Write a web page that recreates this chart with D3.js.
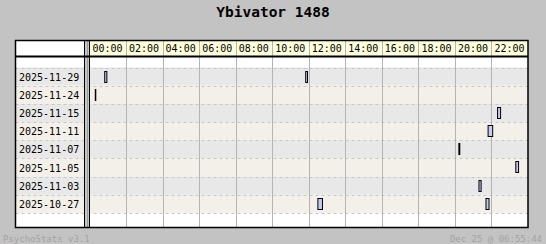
<!DOCTYPE html>
<html>
<head>
<meta charset="utf-8">
<script src="https://cdn.jsdelivr.net/npm/d3@7"></script>
<style>
  body { margin: 0; background: #c3c3c3; }
  svg { display: block; }
  .mono { font-family: "DejaVu Sans Mono", monospace; }
</style>
</head>
<body>
<svg class="chart" width="546" height="244"></svg>
<script>
// chart data
var title = "Ybivator 1488";
var days = ["2025-11-29", "2025-11-24", "2025-11-15", "2025-11-11", "2025-11-07", "2025-11-05", "2025-11-03", "2025-10-27"];
var hourTicks = [0, 2, 4, 6, 8, 10, 12, 14, 16, 18, 20, 22];

// one entry per session
var sessionDay = ["2025-11-29", "2025-11-29", "2025-11-24", "2025-11-15", "2025-11-11", "2025-11-07", "2025-11-05", "2025-11-03", "2025-10-27", "2025-10-27"];
var sessionStart = ["00:50", "11:50", "00:19", "22:20", "21:49", "20:13", "23:20", "21:19", "12:30", "21:42"];
var sessionMinutes = [7, 6, 1, 10, 15, 3, 9, 7, 15, 10];

var footerLeft = "PsychoStats v3.1";
var footerRight = "Dec 25 @ 06:55:44";

//set up chart
var box = {left: 15.5, right: 528, top: 40.5, bottom: 227.5};
var labelRight = 84.5;
var gridLeft = 89.5;
var headBottom = 56;
var rowsTop = 67.5, rowsBottom = 213;

var svg = d3.select(".chart");

function toHours(s) {
    var p = s.split(":");
    return +p[0] + (+p[1]) / 60;
}

var x = d3.scaleLinear().domain([0, 24]).range([gridLeft, box.right]);
var y = d3.scaleBand().domain(days).range([rowsTop, rowsBottom]);

//title
svg.append("text")
    .attr("class", "mono")
    .attr("x", 273)
    .attr("y", 17)
    .attr("text-anchor", "middle")
    .style("font-size", "14.5px")
    .style("font-weight", "bold")
    .attr("fill", "#000")
    .text(title);

//white body of the box
svg.append("rect")
    .attr("x", box.left).attr("y", box.top)
    .attr("width", box.right - box.left).attr("height", box.bottom - box.top)
    .attr("fill", "#fff");

//header cells
svg.append("rect")
    .attr("x", gridLeft).attr("y", box.top)
    .attr("width", box.right - gridLeft).attr("height", headBottom - box.top)
    .attr("fill", "#ffffdc");

//row bands
svg.selectAll(".band")
    .data(days)
    .enter()
    .append("rect")
    .attr("class", "band")
    .attr("x", box.left)
    .attr("y", function(d) { return y(d); })
    .attr("width", box.right - box.left)
    .attr("height", y.bandwidth())
    .attr("fill", function(d, i) { return i % 2 ? "#f3f0ea" : "#e8e8e8"; });

//dashed row lines
var edges = days.map(function(d) { return y(d); }).concat([rowsBottom]);
svg.selectAll(".rowline")
    .data(edges)
    .enter()
    .append("line")
    .attr("x1", box.left).attr("x2", box.right)
    .attr("y1", function(d) { return Math.round(d) + 0.5; })
    .attr("y2", function(d) { return Math.round(d) + 0.5; })
    .attr("stroke", "#c8c8c8")
    .attr("stroke-dasharray", "3,3");

//hour column lines
svg.selectAll(".colline")
    .data(hourTicks.slice(1))
    .enter()
    .append("line")
    .attr("x1", function(d) { return Math.round(x(d)) + 0.5; })
    .attr("x2", function(d) { return Math.round(x(d)) + 0.5; })
    .attr("y1", box.top).attr("y2", box.bottom)
    .attr("stroke", "#b4b4b4");

//hour labels
svg.selectAll(".hour")
    .data(hourTicks)
    .enter()
    .append("text")
    .attr("class", "mono")
    .attr("x", function(d) { return x(d) + 3; })
    .attr("y", 52)
    .style("font-size", "10px")
    .attr("fill", "#000")
    .text(function(d) { return (d < 10 ? "0" : "") + d + ":00"; });

//day labels
svg.selectAll(".day")
    .data(days)
    .enter()
    .append("text")
    .attr("class", "mono")
    .attr("x", 19)
    .attr("y", function(d) { return y(d) + y.bandwidth() / 2 + 4; })
    .style("font-size", "10px")
    .attr("fill", "#000")
    .text(function(d) { return d; });

//gap between label column and grid
svg.append("rect")
    .attr("x", labelRight + 0.5).attr("y", box.top)
    .attr("width", gridLeft - labelRight - 1).attr("height", box.bottom - box.top)
    .attr("fill", "#c6c6c6");
svg.append("line")
    .attr("x1", 87.5).attr("x2", 87.5)
    .attr("y1", box.top).attr("y2", box.bottom)
    .attr("stroke", "#9a9a9a");

//session bars
svg.selectAll(".bar")
    .data(sessionDay)
    .enter()
    .append("rect")
    .attr("class", "bar")
    .attr("x", function(d, i) { return x(toHours(sessionStart[i])); })
    .attr("y", function(d) { return Math.round(y(d)) + 3.5; })
    .attr("width", function(d, i) { return Math.max(x(sessionMinutes[i] / 60) - x(0), 0.5); })
    .attr("height", 11)
    .attr("fill", "#c8c8f0")
    .attr("stroke", "#000");

//black borders
svg.append("line")
    .attr("x1", box.left).attr("x2", box.right)
    .attr("y1", headBottom + 0.5).attr("y2", headBottom + 0.5)
    .attr("stroke", "#000").attr("stroke-width", 2);
[labelRight, gridLeft].forEach(function(v) {
    svg.append("line")
        .attr("x1", v).attr("x2", v)
        .attr("y1", box.top).attr("y2", box.bottom)
        .attr("stroke", "#000");
});
svg.append("rect")
    .attr("x", box.left).attr("y", box.top)
    .attr("width", box.right - box.left).attr("height", box.bottom - box.top)
    .attr("fill", "none")
    .attr("stroke", "#000")
    .attr("stroke-width", 1.5);

//footer
svg.append("text")
    .attr("class", "mono")
    .attr("x", 3).attr("y", 242)
    .style("font-size", "9px")
    .attr("fill", "#a4a4a4")
    .text(footerLeft);
svg.append("text")
    .attr("class", "mono")
    .attr("x", 542).attr("y", 242)
    .attr("text-anchor", "end")
    .style("font-size", "9px")
    .attr("fill", "#a4a4a4")
    .text(footerRight);
</script>
</body>
</html>
